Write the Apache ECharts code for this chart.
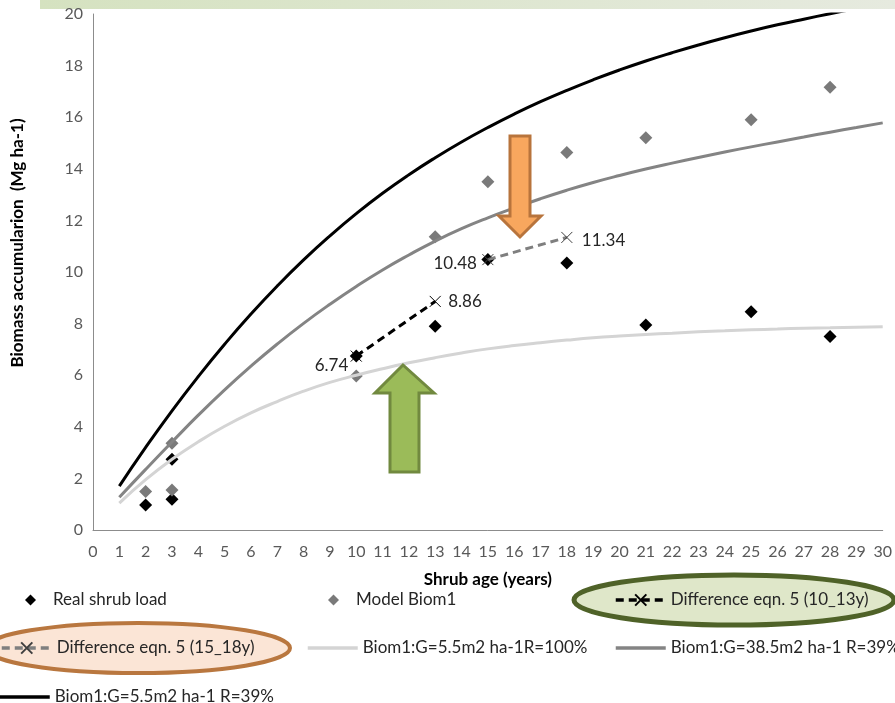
<!DOCTYPE html>
<html>
<head>
<meta charset="utf-8">
<script src="https://cdn.jsdelivr.net/npm/echarts@6/dist/echarts.min.js"></script>
<style>
  html, body { margin: 0; padding: 0; background: #ffffff; }
  #chart { width: 895px; height: 703px; }
</style>
</head>
<body>
<div id="chart"></div>
<script>
// Shrub age (years) at which the model curves are evaluated
const curveAges = [1, 2, 3, 4, 5, 6, 7, 8, 9, 10, 11, 12, 13, 14, 15,
                   16, 17, 18, 19, 20, 21, 22, 23, 24, 25, 26, 27, 28, 29, 30];
// Biom1: G=5.5 m2 ha-1, R=100%
const biomG55R100 = [1.04, 1.95, 2.74, 3.42, 4.02, 4.54, 4.98, 5.38, 5.72, 6.0,
                     6.25, 6.48, 6.68, 6.86, 7.02, 7.15, 7.26, 7.36, 7.45, 7.52,
                     7.58, 7.63, 7.68, 7.72, 7.76, 7.79, 7.82, 7.84, 7.86, 7.88];
// Biom1: G=38.5 m2 ha-1, R=39%
const biomG385R39 = [1.27, 2.35, 3.41, 4.45, 5.43, 6.35, 7.21, 8.01, 8.75, 9.44,
                     10.08, 10.66, 11.2, 11.68, 12.1, 12.48, 12.84, 13.17, 13.47, 13.74,
                     13.99, 14.22, 14.44, 14.65, 14.85, 15.04, 15.23, 15.42, 15.6, 15.78];
// Biom1: G=5.5 m2 ha-1, R=39%
const biomG55R39 = [1.7, 3.2, 4.62, 5.95, 7.2, 8.37, 9.46, 10.47, 11.4, 12.26,
                    13.05, 13.77, 14.43, 15.04, 15.6, 16.12, 16.6, 17.04, 17.45, 17.83,
                    18.18, 18.5, 18.8, 19.08, 19.34, 19.58, 19.8, 20.01, 20.21, 20.4];

// Field measurements
const realAges = [2, 3, 3, 10, 13, 15, 18, 21, 25, 28];
const realLoad = [0.97, 1.19, 2.74, 6.74, 7.9, 10.48, 10.35, 7.95, 8.46, 7.5];

// Model Biom1 estimates
const modelAges = [2, 3, 3, 10, 13, 15, 18, 21, 25, 28];
const modelBiom = [1.49, 1.55, 3.36, 5.97, 11.37, 13.5, 14.63, 15.2, 15.9, 17.16];

// Difference eqn. 5 segments
const diffAgesEarly = [10, 13];
const diffEarly = [6.74, 8.86];
const diffAgesLate = [15, 18];
const diffLate = [10.48, 11.34];

const seriesNames = {
  real: 'Real shrub load',
  model: 'Model Biom1',
  diffEarly: 'Difference eqn. 5 (10_13y)',
  diffLate: 'Difference eqn. 5 (15_18y)',
  full: 'Biom1:G=5.5m2 ha-1R=100%',
  mid: 'Biom1:G=38.5m2 ha-1 R=39%',
  low: 'Biom1:G=5.5m2 ha-1 R=39%'
};
const yTitle = 'Biomass accumularion  (Mg ha-1)';

const pair = (xs, ys) => ys.map((y, i) => [xs[i], y]);
const crossPath = 'path://M0,0L10,10M10,0L0,10';
const font = 'Lato, "Open Sans", sans-serif';

function diffData(xs, ys, offsets) {
  return ys.map((y, i) => ({
    value: [xs[i], y],
    label: { position: i === 0 ? 'left' : 'right', offset: offsets[i] }
  }));
}

const chart = echarts.init(document.getElementById('chart'), null, { renderer: 'canvas' });

const legendText = { fontFamily: font, fontSize: 17, color: '#262626', lineHeight: 20 };
const hiddenSymbol = { color: 'rgba(0,0,0,0)', borderColor: 'rgba(0,0,0,0)', borderWidth: 0 };
const thickLine = { width: 3.5 };

function legendItem(name, left, top, opts) {
  return Object.assign({
    data: [name],
    left: left,
    top: top,
    orient: 'horizontal',
    selectedMode: false,
    padding: 0,
    itemWidth: 50,
    itemHeight: 14,
    itemGap: 0,
    textStyle: legendText
  }, opts || {});
}

const diamondText = Object.assign({}, legendText, { padding: [0, 0, 0, 12] });

const option = {
  animation: false,
  backgroundColor: '#ffffff',
  grid: { left: 93, right: 11, top: 14, bottom: 173, containLabel: false },
  xAxis: {
    type: 'value',
    min: 0, max: 30, interval: 1,
    name: 'Shrub age (years)',
    nameLocation: 'middle',
    nameGap: 41,
    nameTextStyle: { fontFamily: font, fontSize: 17, fontWeight: 'bold', color: '#000' },
    axisLine: { show: true, lineStyle: { color: '#8c8c8c', width: 1 } },
    axisTick: { show: false },
    splitLine: { show: false },
    axisLabel: { fontFamily: font, fontSize: 16, color: '#595959', margin: 14 }
  },
  yAxis: {
    type: 'value',
    min: 0, max: 20, interval: 2,
    axisLine: { show: true, lineStyle: { color: '#8c8c8c', width: 1 } },
    axisTick: { show: false },
    splitLine: { show: false },
    axisLabel: { fontFamily: font, fontSize: 16, color: '#595959', margin: 10 }
  },
  legend: [
    legendItem(seriesNames.real, 25, 590, { itemWidth: 11, itemHeight: 11, textStyle: diamondText }),
    legendItem(seriesNames.model, 328, 590, { itemWidth: 11, itemHeight: 11, textStyle: diamondText }),
    legendItem(seriesNames.diffEarly, 614, 590, { lineStyle: thickLine }),
    legendItem(seriesNames.diffLate, 0, 638, { lineStyle: thickLine }),
    legendItem(seriesNames.full, 306, 638, { itemStyle: hiddenSymbol, lineStyle: thickLine }),
    legendItem(seriesNames.mid, 614, 638, { itemStyle: hiddenSymbol, lineStyle: thickLine }),
    legendItem(seriesNames.low, -2, 687, { itemStyle: hiddenSymbol, lineStyle: thickLine })
  ],
  graphic: [
    {
      type: 'rect', z: 0,
      shape: { x: 40, y: 0, width: 855, height: 9 },
      style: {
        fill: new echarts.graphic.LinearGradient(0, 0, 1, 0, [
          { offset: 0, color: '#d5e2c0' },
          { offset: 1, color: '#e6eadf' }
        ])
      }
    },
    {
      type: 'text', z: 5,
      x: 18, y: 243, rotation: Math.PI / 2,
      style: {
        text: yTitle, fontFamily: font, fontSize: 17, fontWeight: 'bold',
        fill: '#000', align: 'center', verticalAlign: 'middle'
      }
    },
    {
      type: 'ellipse', z: 0,
      shape: { cx: 734, cy: 600, rx: 160, ry: 25 },
      style: { fill: '#dfe7c9', stroke: '#4f6228', lineWidth: 5 }
    },
    {
      type: 'ellipse', z: 0,
      shape: { cx: 138, cy: 648, rx: 152, ry: 25 },
      style: { fill: '#fbe5d6', stroke: '#b9773f', lineWidth: 4 }
    },
    {
      type: 'polygon', z: 100,
      shape: { points: [[510, 136], [530, 136], [530, 216], [541, 216], [520, 237], [499, 216], [510, 216]] },
      style: { fill: '#f8a75e', stroke: '#b8743c', lineWidth: 3 }
    },
    {
      type: 'polygon', z: 100,
      shape: { points: [[403, 365], [434, 393], [419, 393], [419, 472], [390, 472], [390, 393], [375, 393]] },
      style: { fill: '#9bbb59', stroke: '#71893f', lineWidth: 3 }
    }
  ],
  series: [
    {
      name: seriesNames.real, type: 'scatter',
      data: pair(realAges, realLoad),
      symbol: 'diamond', symbolSize: 13,
      itemStyle: { color: '#000000', opacity: 1 }
    },
    {
      name: seriesNames.model, type: 'scatter',
      data: pair(modelAges, modelBiom),
      symbol: 'diamond', symbolSize: 13,
      itemStyle: { color: '#7a7a7a', opacity: 1 }
    },
    {
      name: seriesNames.full, type: 'line',
      data: pair(curveAges, biomG55R100),
      smooth: true, symbol: 'none',
      lineStyle: { color: '#d4d4d4', width: 3 },
      itemStyle: { color: '#d4d4d4' }
    },
    {
      name: seriesNames.mid, type: 'line',
      data: pair(curveAges, biomG385R39),
      smooth: true, symbol: 'none',
      lineStyle: { color: '#848484', width: 3 },
      itemStyle: { color: '#848484' }
    },
    {
      name: seriesNames.low, type: 'line',
      data: pair(curveAges, biomG55R39),
      smooth: true, symbol: 'none',
      lineStyle: { color: '#000000', width: 3 },
      itemStyle: { color: '#000000' }
    },
    {
      name: seriesNames.diffEarly, type: 'line',
      data: diffData(diffAgesEarly, diffEarly, [[4, 9], [1, 0]]),
      symbol: crossPath, symbolSize: 11, showSymbol: true,
      lineStyle: { color: '#000000', width: 3, type: [8, 5] },
      itemStyle: { color: '#000000', borderColor: '#000000', borderWidth: 1 },
      label: {
        show: true, fontFamily: font, fontSize: 17, color: '#262626', distance: 6,
        formatter: p => p.value[1].toFixed(2)
      }
    },
    {
      name: seriesNames.diffLate, type: 'line',
      data: diffData(diffAgesLate, diffLate, [[1, 4], [3, 3]]),
      symbol: crossPath, symbolSize: 11, showSymbol: true,
      lineStyle: { color: '#7f7f7f', width: 3, type: [8, 5] },
      itemStyle: { color: '#7f7f7f', borderColor: '#404040', borderWidth: 1 },
      label: {
        show: true, fontFamily: font, fontSize: 17, color: '#262626', distance: 6,
        formatter: p => p.value[1].toFixed(2)
      }
    }
  ]
};

chart.setOption(option);
</script>
</body>
</html>
